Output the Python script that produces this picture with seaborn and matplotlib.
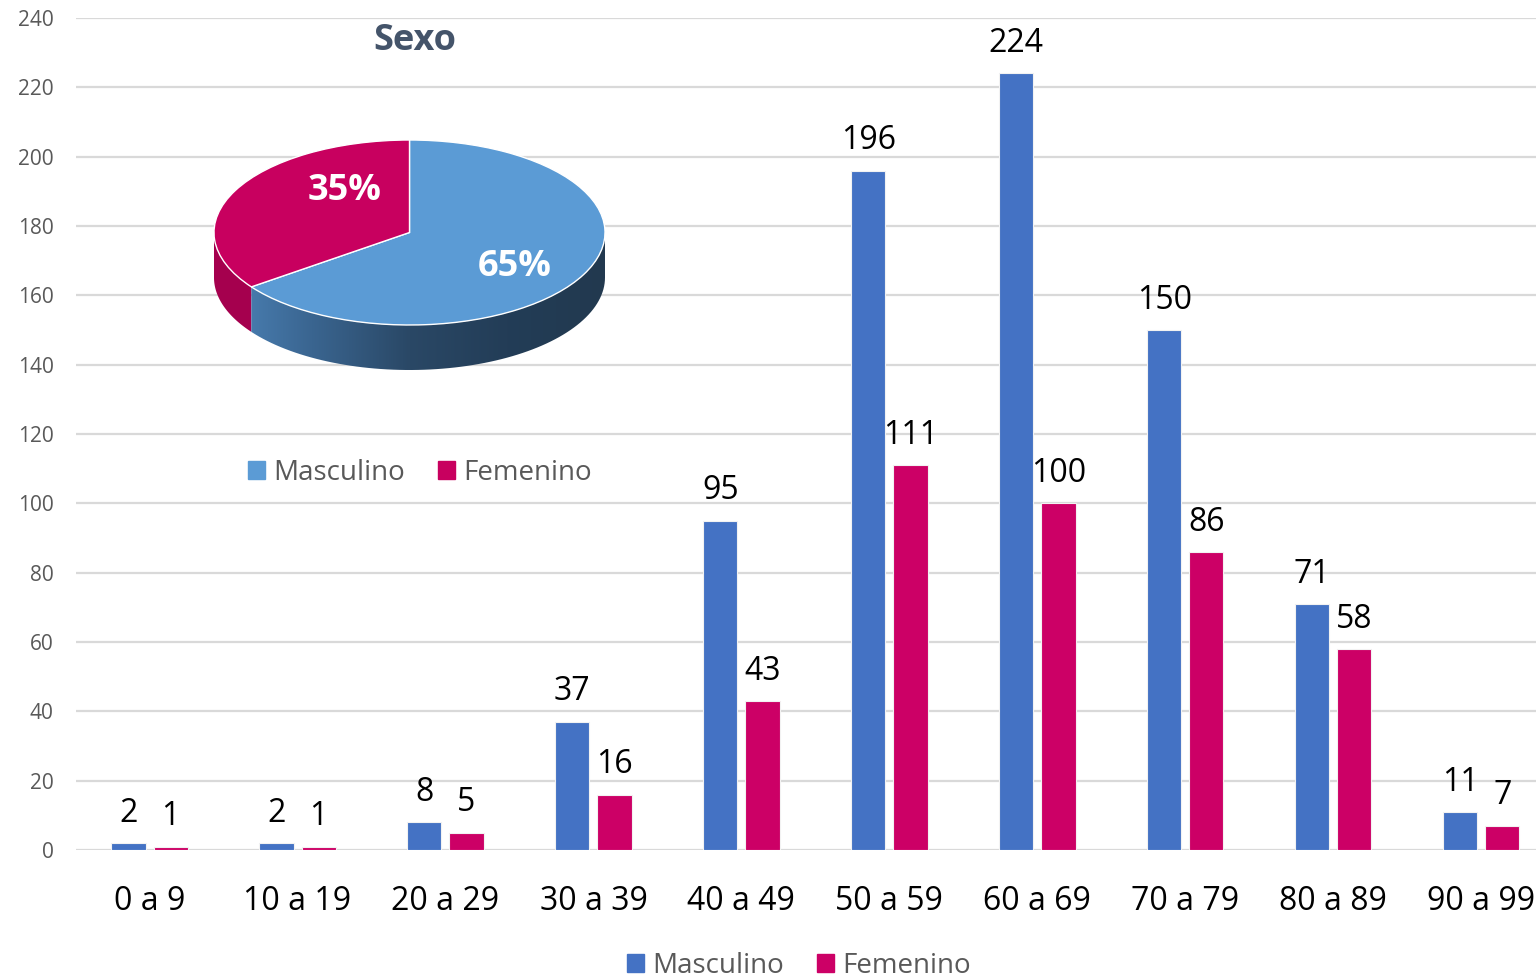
import numpy as np
import pandas as pd
import matplotlib
matplotlib.use("Agg")
import matplotlib.pyplot as plt
from matplotlib.patches import Patch, Polygon
from matplotlib.colors import LinearSegmentedColormap
import seaborn as sns

# data
grupos = ["0 a 9", "10 a 19", "20 a 29", "30 a 39", "40 a 49",
          "50 a 59", "60 a 69", "70 a 79", "80 a 89", "90 a 99"]
masculino = [2, 2, 8, 37, 95, 196, 224, 150, 71, 11]
femenino = [1, 1, 5, 16, 43, 111, 100, 86, 58, 7]
sexo_labels = ["Masculino", "Femenino"]
sexo_pct = [65, 35]

AZUL = "#4472C4"
ROSA = "#CC0066"
PIE_AZUL = "#5B9BD5"
PIE_ROSA = "#C8005F"
GRIS = "#595959"

sns.set_style("white")
plt.rcParams["font.family"] = ["Open Sans", "DejaVu Sans"]

df = pd.DataFrame({
    "grupo": grupos * 2,
    "valor": masculino + femenino,
    "sexo": ["Masculino"] * len(grupos) + ["Femenino"] * len(grupos),
})

W, H = 1536, 977
fig = plt.figure(figsize=(W / 100, H / 100), dpi=100)
ax = fig.add_axes([76 / W, 1 - 850 / H, 1 - 76 / W, (850 - 18) / H])

sns.barplot(data=df, x="grupo", y="valor", hue="sexo", order=grupos,
            palette={"Masculino": AZUL, "Femenino": ROSA}, width=0.57, gap=0.19,
            saturation=1, edgecolor="#F2F2F2", linewidth=0.8, ax=ax, legend=False,
            zorder=3)

for cont in ax.containers:
    for bar in cont:
        h = bar.get_height()
        ax.annotate(f"{int(h)}", (bar.get_x() + bar.get_width() / 2, h),
                    xytext=(0, 21.5), textcoords="offset points",
                    ha="center", va="center", fontsize=23, color="black")

ax.set_ylim(0, 240)
ax.set_yticks(range(0, 241, 20))
ax.set_xlim(-0.497, 9.37)
ax.yaxis.grid(True, color="#D9D9D9", linewidth=1.6, zorder=0)
ax.set_axisbelow(True)
for s in ax.spines.values():
    s.set_visible(False)
ax.axhline(0, color="#D9D9D9", linewidth=1.8, zorder=1)
ax.tick_params(axis="y", labelsize=15, labelcolor=GRIS, length=0, pad=16)
ax.tick_params(axis="x", labelsize=23, labelcolor="black", length=0, pad=25)
ax.set_xlabel("")
ax.set_ylabel("")

fig.legend(handles=[Patch(color=AZUL, label="Masculino"), Patch(color=ROSA, label="Femenino")],
           loc="center", bbox_to_anchor=(799 / W, 1 - 966 / H), ncol=2, frameon=False,
           fontsize=20, labelcolor=GRIS, handlelength=0.6, handleheight=0.6,
           handletextpad=0.3, columnspacing=1.2)

# inset pseudo-3D pie
depth = 45 / 92.5
pax = fig.add_axes([214 / W, 1 - 370 / H, (605 - 214) / W, (370 - 140) / H])
fem_frac = sexo_pct[1] / sum(sexo_pct)
start = 90 + 360 * fem_frac
wedges, _ = pax.pie(sexo_pct, colors=[PIE_AZUL, PIE_ROSA], startangle=start,
                    counterclock=True, radius=1.0)
pax.set_aspect("auto")
pax.axis("off")
for w in wedges:
    w.set_zorder(5)

# side walls (front half only)
def side_poly(a0, a1):
    t = np.radians(np.linspace(a0, a1, 80))
    top = np.column_stack([np.cos(t), np.sin(t)])
    bot = np.column_stack([np.cos(t[::-1]), np.sin(t[::-1]) - depth])
    return np.vstack([top, bot])

fem_end = 90 + 360 * fem_frac
pax.add_patch(Polygon(side_poly(180, fem_end), closed=True, facecolor="#A5004E",
                      edgecolor="none", zorder=2))
masc_side = Polygon(side_poly(fem_end, 360), closed=True, facecolor="none",
                    edgecolor="none", zorder=2)
pax.add_patch(masc_side)
cmap = LinearSegmentedColormap.from_list("lado", ["#4E86BC", "#3A6590", "#2A4866", "#233D57", "#22394F"])
grad = np.linspace(0, 1, 256).reshape(1, -1)
im = pax.imshow(grad, cmap=cmap, extent=(-1, 1, -1 - depth, 0.2), aspect="auto",
                zorder=2, interpolation="bicubic")
im.set_clip_path(masc_side)
pax.set_xlim(-1, 1)
pax.set_ylim(-1 - depth, 1)

pax.text(-0.33, 0.45, f"{sexo_pct[1]}%", color="white", fontsize=26, fontweight="bold",
         ha="center", va="center", zorder=6)
pax.text(0.537, -0.37, f"{sexo_pct[0]}%", color="white", fontsize=26, fontweight="bold",
         ha="center", va="center", zorder=6)

fig.text(415 / W, 1 - 41 / H, "Sexo", color="#44546A", fontsize=26, fontweight="bold",
         ha="center", va="center")
fig.legend(handles=[Patch(color=PIE_AZUL, label=sexo_labels[0]),
                    Patch(color=PIE_ROSA, label=sexo_labels[1])],
           loc="center", bbox_to_anchor=(420 / W, 1 - 473 / H), ncol=2, frameon=False,
           fontsize=20, labelcolor=GRIS, handlelength=0.6, handleheight=0.6,
           handletextpad=0.3, columnspacing=1.2)

fig.savefig("out.png", dpi=100)
